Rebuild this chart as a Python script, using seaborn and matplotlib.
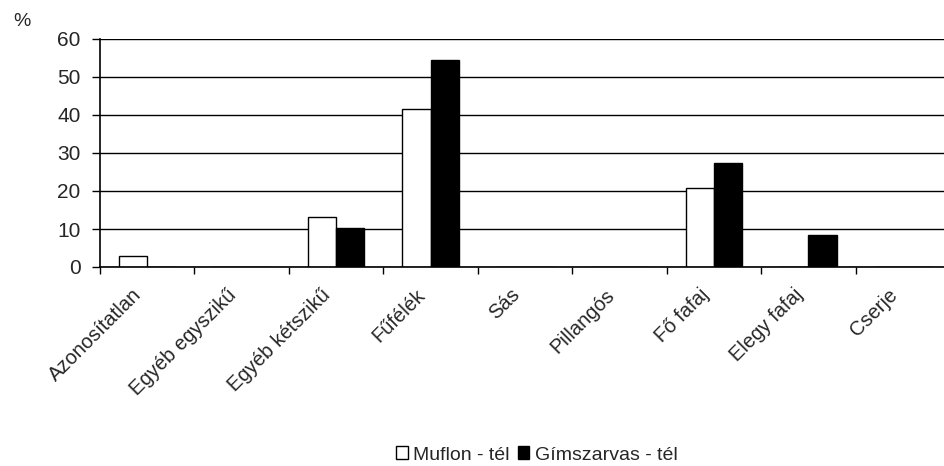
import numpy as np
import pandas as pd
import matplotlib
matplotlib.use("Agg")
import matplotlib.pyplot as plt
import matplotlib.transforms as mtransforms
import seaborn as sns

# ---- data ----
categories = ["Azonosítatlan", "Egyéb egyszikű", "Egyéb kétszikű", "Fűfélék",
              "Sás", "Pillangós", "Fő fafaj", "Elegy fafaj", "Cserje"]
muflon = [3.0, 0, 13.2, 41.6, 0, 0, 20.9, 0, 0]
gimszarvas = [0, 0, 10.3, 54.5, 0, 0, 27.3, 8.3, 0]
series_names = ["Muflon - tél", "Gímszarvas - tél"]
y_ticks = [0, 10, 20, 30, 40, 50, 60]

df = pd.DataFrame({
    "kategoria": categories * 2,
    "ertek": muflon + gimszarvas,
    "sorozat": [series_names[0]] * len(categories) + [series_names[1]] * len(categories),
})

sns.set_style("white")
plt.rcParams["font.family"] = ["Liberation Sans", "DejaVu Sans"]

fig = plt.figure(figsize=(9.45, 4.66), dpi=100)
# axes runs slightly past the right edge, like the cropped original
ax = fig.add_axes([100 / 945, 1 - 267 / 466, 850 / 945, 228 / 466])

sns.barplot(data=df, x="kategoria", y="ertek", hue="sorozat", order=categories,
            hue_order=series_names,
            palette={series_names[0]: "white", series_names[1]: "black"},
            edgecolor="black", linewidth=1, width=0.6, saturation=1,
            ax=ax)

ax.set_xlim(-0.5, len(categories) - 0.5)
ax.set_ylim(0, 60)
ax.set_yticks(y_ticks)
ax.set_axisbelow(True)
ax.yaxis.grid(True, color="black", linewidth=1)
ax.xaxis.grid(False)

for side in ["top", "right"]:
    ax.spines[side].set_visible(False)
for side in ["left", "bottom"]:
    ax.spines[side].set_color("black")
    ax.spines[side].set_linewidth(1.2)

ax.set_xlabel("")
ax.set_ylabel("")
ax.tick_params(axis="y", direction="out", length=6, width=1, pad=8,
               labelsize=15, left=True, color="black")

# category boundaries as major ticks, labels at the centres on minor ticks
ax.set_xticks(np.arange(len(categories)) - 0.5)
ax.set_xticklabels([])
ax.tick_params(axis="x", which="major", direction="out", length=5, width=1,
               bottom=True, color="black")
ax.set_xticks(np.arange(len(categories)), minor=True)
ax.set_xticklabels(categories, minor=True, rotation=45, ha="right",
                   va="center", rotation_mode="anchor", fontsize=14.5)
ax.tick_params(axis="x", which="minor", length=0, pad=18)
offset = mtransforms.ScaledTranslation(-6 / 72, 0, fig.dpi_scale_trans)
for lbl in ax.get_xticklabels(minor=True):
    lbl.set_transform(lbl.get_transform() + offset)

fig.text(22 / 945, 1 - 22 / 466, "%", ha="center", va="center", fontsize=14)

handles, labels = ax.get_legend_handles_labels()
ax.get_legend().remove()
fig.legend(handles, labels, loc="center", bbox_to_anchor=(537 / 945, 11 / 466),
           ncol=2, frameon=False, fontsize=14, handlelength=0.6,
           handleheight=0.6, handletextpad=0.3, columnspacing=0.4)

fig.savefig("out.png", dpi=100)
